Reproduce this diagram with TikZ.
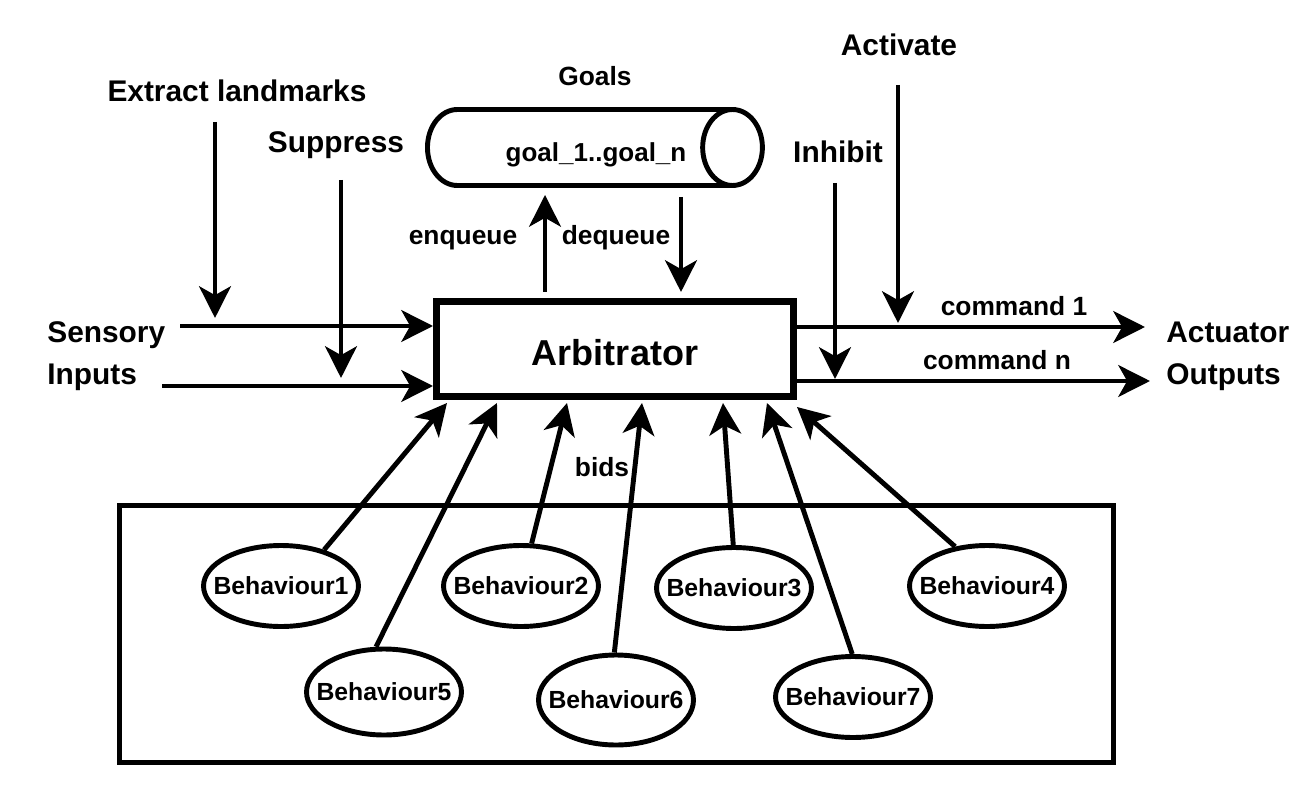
\documentclass[tikz,border=0pt]{standalone}
\usepackage{fontspec}
\setmainfont{Liberation Sans}
\usetikzlibrary{arrows.meta,shapes.geometric}

\begin{document}
\begin{tikzpicture}[
  x=0.02cm, y=-0.02cm,
  lbl/.style={anchor=base, inner sep=0pt, font=\fontsize{17}{23.8}\selectfont\bfseries},
  mid/.style={anchor=base, inner sep=0pt, font=\fontsize{15}{18}\selectfont\bfseries},
  behaviour/.style={ellipse, draw, line width=2.8pt, minimum width=3.1cm, minimum height=1.62cm,
    inner xsep=-8.5pt, inner ysep=0pt, font=\fontsize{14.1}{16}\selectfont\bfseries},
  arbiter/.style={rectangle, draw, line width=4pt, minimum width=7.14cm, minimum height=1.9cm,
    text height=19pt, font=\fontsize{20.5}{24}\selectfont\bfseries},
  queue/.style={cylinder, draw, line width=2.8pt, inner sep=10pt, aspect=1.7, minimum width=1.52cm, minimum height=6.7cm},
  flow/.style={line width=2.8pt, -{Stealth[length=18pt, width=18pt, inset=5pt]}}
]
\useasboundingbox (0,0) rectangle (1298,797);

% arbitrator and goal queue
\node[arbiter] (arb) at (615,349) {Arbitrator};
\node[queue, anchor=west] (goals) at (425,147.5) {};
\node[mid, font=\fontsize{14.8}{18}\selectfont\bfseries] (goaltxt) at (596,162) {goal\_1..goal\_n};
\node[mid] (goalslbl) at (595,86) {Goals};

\coordinate (enq) at (545,0);
\coordinate (deq) at (681,0);
\draw[flow, shorten <=0.12cm, shorten >=0.14cm] (arb.north -| enq) -- (goals.south -| enq);
\draw[flow, shorten <=0.18cm, shorten >=0.12cm] (goals.south -| deq) -- (arb.north -| deq);
\node[mid] (enqlbl) at (463,245) {enqueue};
\node[mid] (deqlbl) at (616,245) {dequeue};

% inputs
\node[lbl, anchor=west, align=left] (sensory) at (47,356) {Sensory\\Inputs};
\coordinate (in1) at (180,326);
\coordinate (in2) at (162,386);
\draw[flow] (in1) -- (in1 -| arb.west);
\draw[flow] (in2) -- (in2 -| arb.west);

\node[lbl] (extract) at (237,102) {Extract landmarks};
\node[lbl] (suppress) at (336,153) {Suppress};
\coordinate (ext) at (215,122);
\coordinate (sup) at (341,180);
\draw[flow, shorten >=0.16cm] (ext) -- (ext |- in1);
\draw[flow, shorten >=0.16cm] (sup) -- (sup |- in2);

% outputs
\node[lbl, anchor=west, align=left] (actuator) at (1166,356) {Actuator\\Outputs};
\coordinate (out1) at (1145,327);
\coordinate (outn) at (1150,381);
\draw[flow] (arb.east |- out1) -- (out1);
\draw[flow] (arb.east |- outn) -- (outn);
\node[mid] (cmd1) at (1014,316) {command 1};
\node[mid] (cmdn) at (997,369) {command n};

\node[lbl] (activate) at (899,56) {Activate};
\node[lbl] (inhibit) at (838,163) {Inhibit};
\coordinate (act) at (898,85);
\coordinate (inh) at (835,183);
\draw[flow, shorten >=0.08cm] (act) -- (act |- out1);
\draw[flow, shorten >=0.04cm] (inh) -- (inh |- outn);

% behaviours
\draw[line width=2.8pt] (119.5,505.5) rectangle (1113.5,762.5);
\node[behaviour] (b1) at (281,586) {Behaviour1};
\node[behaviour] (b2) at (521,586) {Behaviour2};
\node[behaviour] (b3) at (734,588) {Behaviour3};
\node[behaviour] (b4) at (987,586) {Behaviour4};
\node[behaviour, minimum height=1.72cm] (b5) at (384,692) {Behaviour5};
\node[behaviour, minimum height=1.8cm] (b6) at (616,700) {Behaviour6};
\node[behaviour] (b7) at (853,697) {Behaviour7};

\coordinate (t1) at (447,403);
\coordinate (t5) at (497,403);
\coordinate (t2) at (567,403);
\coordinate (t6) at (642,403);
\coordinate (t3) at (723,403);
\coordinate (t7) at (767,403);
\coordinate (t4) at (797,407);
\foreach \b/\a in {1/40, 5/100, 2/76, 6/92, 3/91, 7/91, 4/129}
  \draw[flow] (b\b.\a) -- (t\b);
\node[mid] (bids) at (602,476) {bids};
\end{tikzpicture}
\end{document}
